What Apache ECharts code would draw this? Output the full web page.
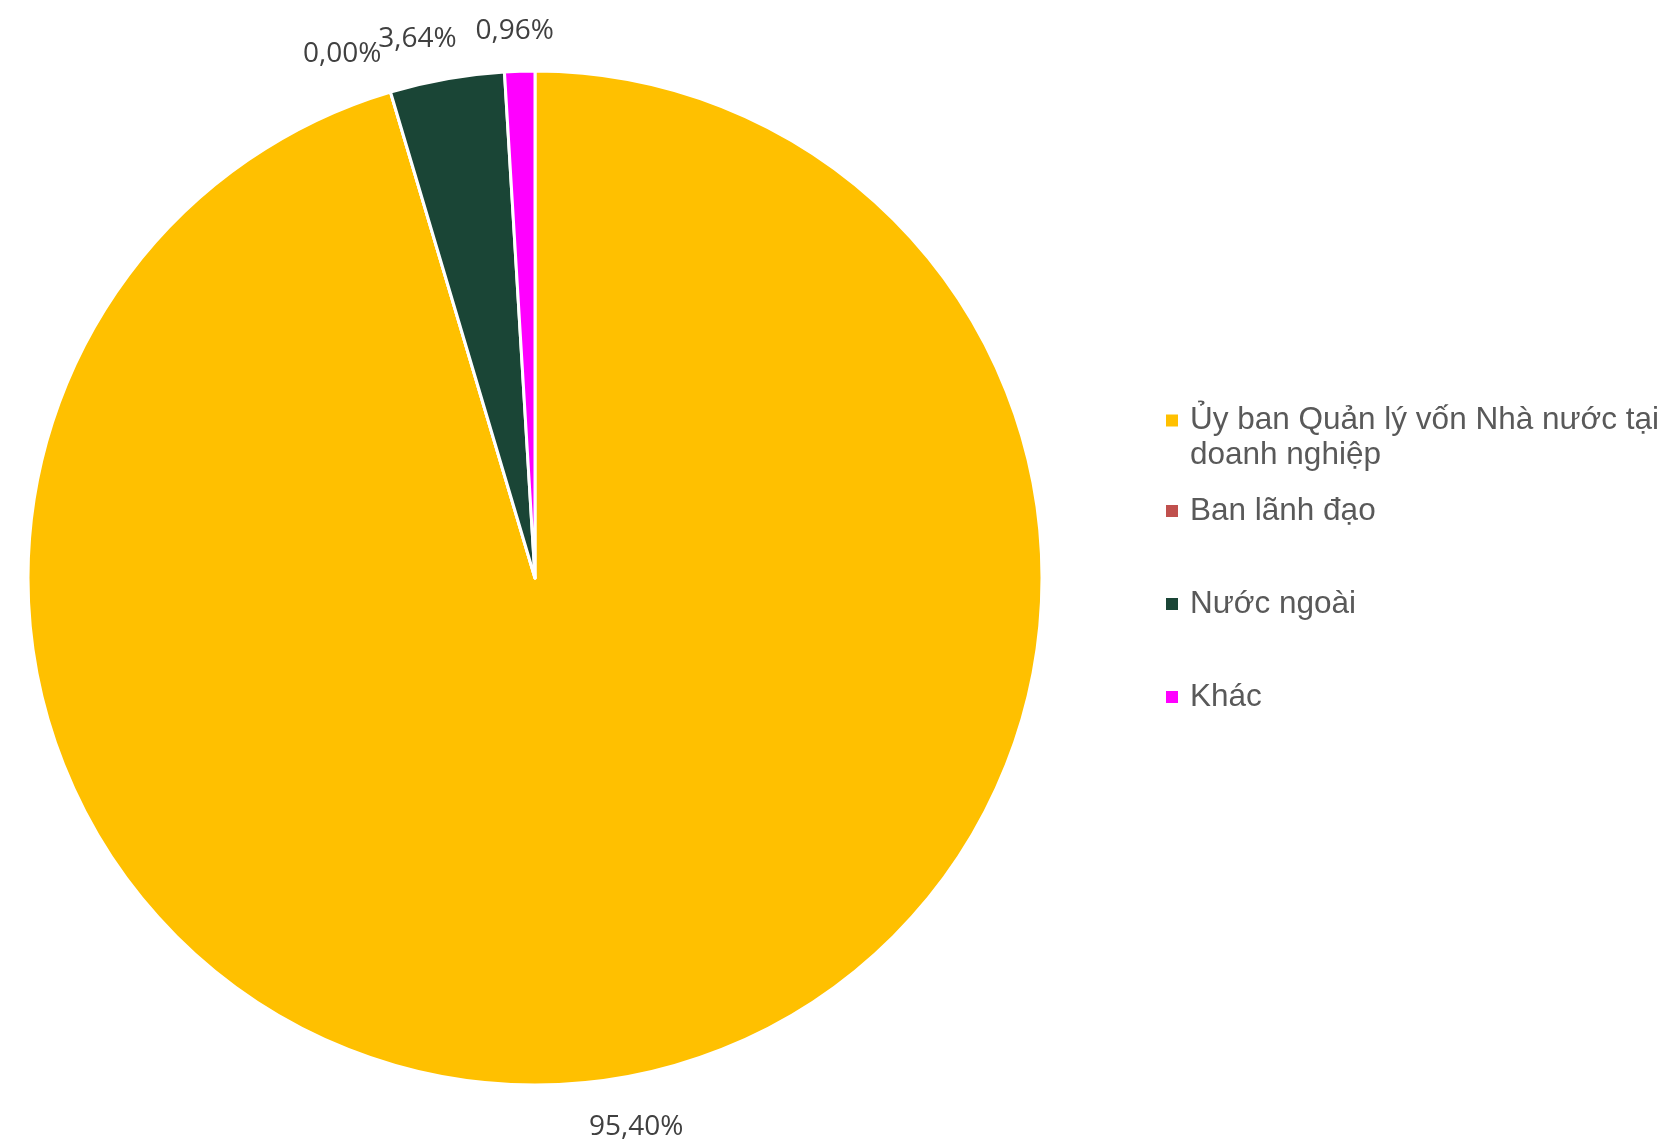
<!DOCTYPE html>
<html><head><meta charset="utf-8">
<script src="https://cdn.jsdelivr.net/npm/echarts@6/dist/echarts.min.js"></script>
<style>html,body{margin:0;padding:0;background:#fff}#c{width:1672px;height:1139px}</style>
</head><body><div id="c"></div>
<script>
const categories = ['Ủy ban Quản lý vốn Nhà nước tại doanh nghiệp', 'Ban lãnh đạo', 'Nước ngoài', 'Khác'];
const shares = [95.40, 0.00, 3.64, 0.96];
const colors = ['#FFC000', '#C0504D', '#1A4536', '#FF00FF'];

const CX = 535, CY = 578, R = 507;
const total = shares.reduce((a, b) => a + b, 0);
function midAngle(i) {
  let s = 0;
  for (let k = 0; k < i; k++) s += shares[k];
  return (s + shares[i] / 2) / total * 2 * Math.PI;
}

const legendText = {
  fontFamily: 'Liberation Sans, Arial, sans-serif',
  fontSize: 31.5, color: '#595959', lineHeight: 35,
  width: 600, overflow: 'break', padding: [0, 0, 0, 6]
};

const chart = echarts.init(document.getElementById('c'));
chart.setOption({
  animation: false,
  color: colors,
  legend: [
    {
      orient: 'vertical', left: 1164, top: 368, padding: 0,
      itemWidth: 14, itemHeight: 14, icon: 'rect', selectedMode: false,
      data: [categories[0]],
      formatter: name => '\n' + name,
      textStyle: legendText
    },
    {
      orient: 'vertical', left: 1164, top: 492, padding: 0, itemGap: 55,
      itemWidth: 14, itemHeight: 14, icon: 'rect', selectedMode: false,
      data: categories.slice(1),
      textStyle: Object.assign({}, legendText, { lineHeight: 38 })
    }
  ],
  series: [{
    type: 'pie',
    center: [CX, CY],
    radius: R,
    startAngle: 90,
    clockwise: true,
    avoidLabelOverlap: false,
    data: categories.map((n, i) => ({ name: n, value: shares[i] })),
    itemStyle: { borderColor: '#ffffff', borderWidth: 3 },
    emphasis: { disabled: true },
    label: {
      show: true, position: 'outside',
      formatter: p => p.value.toFixed(2).replace('.', ',') + '%',
      fontFamily: 'Open Sans, sans-serif', fontSize: 28, color: '#404040'
    },
    labelLine: { show: false },
    labelLayout: function (p) {
      const a = midAngle(p.dataIndex);
      const s = Math.sin(a), c = Math.cos(a);
      const d = 44;
      return {
        x: CX + s * (R + d) + 1.6 * s * p.labelRect.width,
        y: CY - c * (R + d) + 4,
        align: 'center', verticalAlign: 'middle'
      };
    }
  }]
});
</script>
</body></html>
